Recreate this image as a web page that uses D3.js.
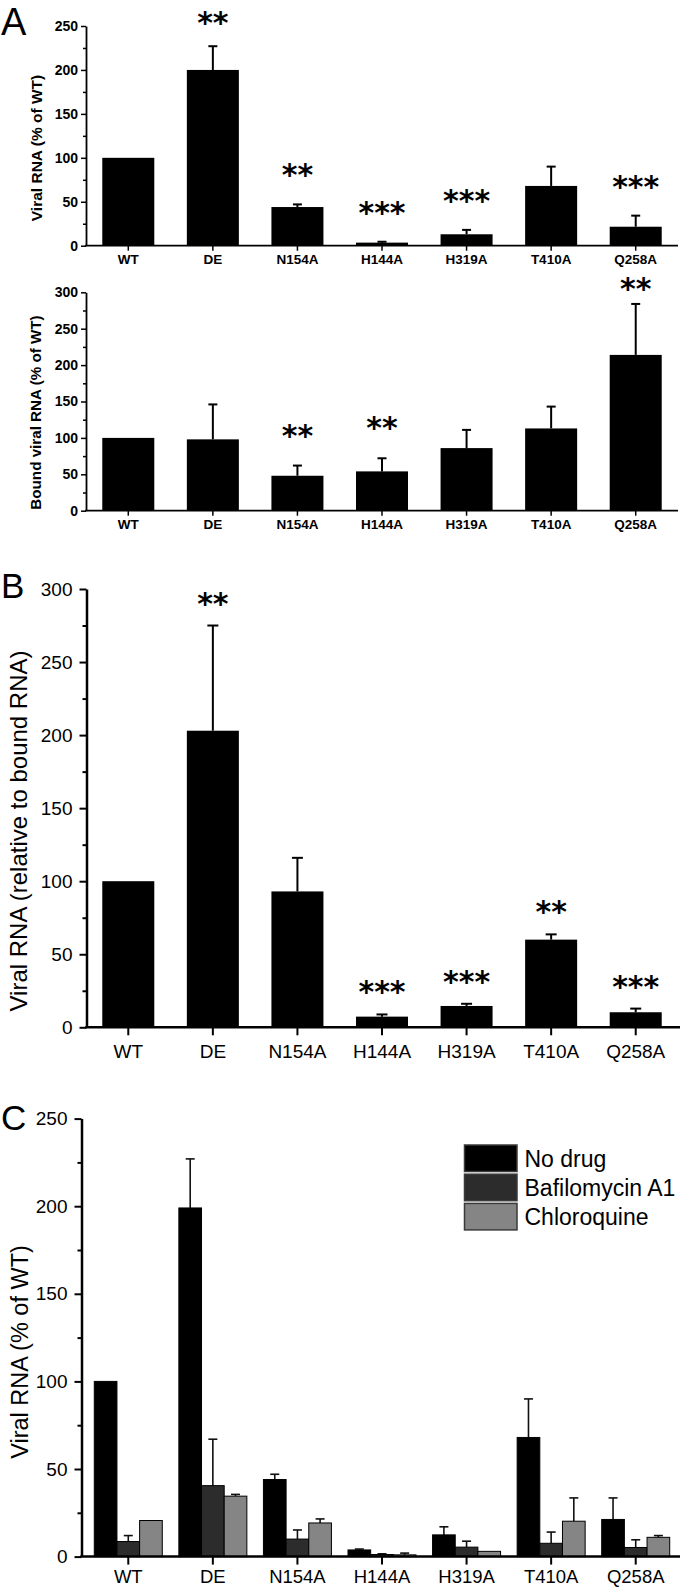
<!DOCTYPE html>
<html>
<head>
<meta charset="utf-8">
<script src="https://cdnjs.cloudflare.com/ajax/libs/d3/7.8.5/d3.min.js"></script>
<style>
  html, body { margin: 0; padding: 0; background: #fff; }
  svg { display: block; }
</style>
</head>
<body>
<script>
// ---------------- data ----------------
const categories = ["WT", "DE", "N154A", "H144A", "H319A", "T410A", "Q258A"];

// Panel A (top): Viral RNA (% of WT)
const a1Values = [100, 200, 44, 3.5, 13, 68, 21.6];
const a1Errors = [0, 27, 3, 1, 5, 22, 12.6];
const a1Sig = ["", "**", "**", "***", "***", "", "***"];
const a1Ticks = [0, 50, 100, 150, 200, 250];

// Panel A (bottom): Bound viral RNA (% of WT)
const a2Values = [100, 98, 48, 54, 86, 113, 214];
const a2Errors = [0, 48, 14, 18, 25, 30, 70];
const a2Sig = ["", "", "**", "**", "", "", "**"];
const a2Ticks = [0, 50, 100, 150, 200, 250, 300];

// Panel B: Viral RNA (relative to bound RNA)
const bValues = [100, 203, 93, 7.3, 14.6, 60, 10.3];
const bErrors = [0, 72, 23, 1.5, 1.5, 3.6, 2.5];
const bSig = ["", "**", "", "***", "***", "**", "***"];
const bTicks = [0, 50, 100, 150, 200, 250, 300];

// Panel C: Viral RNA (% of WT) with drugs
const seriesNames = ["No drug", "Bafilomycin A1", "Chloroquine"];
const cNoDrug = [100, 199, 44, 3.8, 12.4, 68, 21.2];
const cNoDrugErr = [0, 28, 3, 0.5, 4.6, 22, 12.3];
const cBafilo = [8.6, 40.5, 10, 1.2, 5.4, 7.6, 5.2];
const cBafiloErr = [3.4, 26.5, 5.2, 0.4, 3.4, 6.4, 4.4];
const cChloro = [20.6, 34.5, 19.2, 1, 3, 20.2, 11];
const cChloroErr = [0, 1, 2.3, 1, 0, 13.3, 1];
const cTicks = [0, 50, 100, 150, 200, 250];

// ---------------- drawing ----------------
const W = 680, H = 1588;
const FONT = "'Liberation Sans', Arial, Helvetica, sans-serif";
const svg = d3.select("body").append("svg").attr("width", W).attr("height", H);

function minorOf(ticks) {
  const out = [];
  for (let i = 0; i < ticks.length - 1; i++) out.push((ticks[i] + ticks[i + 1]) / 2);
  return out;
}

function styleAxis(g, o) {
  g.selectAll("path.domain").attr("stroke", "#000").attr("stroke-width", o.axisW);
  g.selectAll(".tick line").attr("stroke", "#000").attr("stroke-width", o.tickW);
  g.selectAll(".tick text")
    .attr("fill", "#000")
    .style("font-family", FONT)
    .style("font-size", o.fs + "px")
    .style("font-weight", o.fw);
}

function drawAxes(o) {
  const y0 = o.y(0);
  const gy = svg.append("g").attr("transform", `translate(${o.axisX},0)`)
    .call(d3.axisLeft(o.y).tickValues(o.ticks).tickSize(o.majorLen).tickSizeOuter(0).tickPadding(o.yPad));
  styleAxis(gy, { axisW: o.axisW, tickW: o.tickW, fs: o.fs, fw: o.fw });
  const gm = svg.append("g").attr("transform", `translate(${o.axisX},0)`)
    .call(d3.axisLeft(o.y).tickValues(minorOf(o.ticks)).tickSize(o.minorLen).tickFormat(""));
  gm.select("path.domain").remove();
  gm.selectAll(".tick line").attr("stroke", "#000").attr("stroke-width", o.tickW);

  const gx = svg.append("g").attr("transform", `translate(0,${y0})`)
    .call(d3.axisBottom(o.x).tickSize(o.xTickLen).tickSizeOuter(0).tickPadding(o.xPad));
  styleAxis(gx, { axisW: o.axisW, tickW: o.tickW, fs: o.xfs, fw: o.fw });
  gx.select("path.domain").attr("d", `M${o.axisX - o.axisW / 2},0H${o.right}`);
}

function yTitle(text, cx, cy, fs, fw) {
  svg.append("text")
    .attr("transform", `translate(${cx},${cy}) rotate(-90)`)
    .attr("text-anchor", "middle")
    .attr("dy", "0.35em")
    .style("font-family", FONT)
    .style("font-size", fs + "px")
    .style("font-weight", fw)
    .attr("fill", "#000")
    .text(text);
}

function panelLetter(t, x, y, fs) {
  svg.append("text").attr("x", x).attr("y", y)
    .style("font-family", FONT).style("font-size", fs + "px")
    .attr("fill", "#000").text(t);
}

const STAR_FS = 30;
function stars(list, xc, yTopPx, offset, clampY) {
  list.forEach((s, i) => {
    if (!s) return;
    let cy = Math.max(yTopPx[i] - offset, clampY);
    svg.append("text")
      .attr("x", xc(categories[i])).attr("y", cy + STAR_FS * 0.5)
      .attr("text-anchor", "middle")
      .style("font-family", "'DejaVu Sans', sans-serif")
      .style("font-weight", "bold")
      .style("font-size", STAR_FS + "px")
      .attr("fill", "#000")
      .text(s);
  });
}

function simpleBarPanel(o) {
  const x = d3.scaleBand().domain(categories).range([86, 678]).paddingInner(0.385).paddingOuter(0.1925);
  const y = d3.scaleLinear().domain(o.domain).range(o.range);
  const xc = c => x(c) + x.bandwidth() / 2;

  const eb = svg.append("g");
  o.values.forEach((v, i) => {
    if (o.errors[i] <= 0) return;
    const cx = xc(categories[i]);
    eb.append("line").attr("x1", cx).attr("x2", cx).attr("y1", y(v)).attr("y2", y(v + o.errors[i]))
      .attr("stroke", "#000").attr("stroke-width", o.ebW);
    eb.append("line").attr("x1", cx - o.cap / 2).attr("x2", cx + o.cap / 2)
      .attr("y1", y(v + o.errors[i])).attr("y2", y(v + o.errors[i]))
      .attr("stroke", "#000").attr("stroke-width", o.ebW);
  });
  svg.append("g").selectAll("rect").data(o.values).join("rect")
    .attr("x", (d, i) => x(categories[i]))
    .attr("width", x.bandwidth())
    .attr("y", d => y(d))
    .attr("height", d => y(0) - y(d))
    .attr("fill", "#000");

  drawAxes(Object.assign({ x, y }, o.axis));
  const tops = o.values.map((v, i) => y(v + o.errors[i]));
  stars(o.sig, xc, tops, o.starOffset, y(o.domain[1]) - 8);
}

// ---- Panel A top ----
const axisA = { axisX: 86, right: 678, majorLen: 5, minorLen: 3, fs: 14, xfs: 13.5, fw: "bold",
  xTickLen: 5, xPad: 4, yPad: 3, axisW: 1.8, tickW: 1.5 };
simpleBarPanel({ values: a1Values, errors: a1Errors, sig: a1Sig, domain: [0, 250], range: [245.7, 26],
  ebW: 2, cap: 9, starOffset: 34, axis: Object.assign({ ticks: a1Ticks }, axisA) });
yTitle("Viral RNA (% of WT)", 37, 148, 15.5, "bold");

// ---- Panel A bottom ----
simpleBarPanel({ values: a2Values, errors: a2Errors, sig: a2Sig, domain: [0, 300], range: [510.7, 292.3],
  ebW: 2, cap: 9, starOffset: 35, axis: Object.assign({ ticks: a2Ticks }, axisA) });
yTitle("Bound viral RNA (% of WT)", 36, 412.5, 15.2, "bold");
panelLetter("A", 1, 34.5, 38);

// ---- Panel B ----
const axisB = { axisX: 86.5, right: 680, majorLen: 7, minorLen: 4, fs: 19, xfs: 19, fw: "normal",
  xTickLen: 8, xPad: 9, yPad: 7, axisW: 2.5, tickW: 2 };
simpleBarPanel({ values: bValues, errors: bErrors, sig: bSig, domain: [0, 300], range: [1027.3, 589],
  ebW: 2, cap: 11, starOffset: 27, axis: Object.assign({ ticks: bTicks }, axisB) });
yTitle("Viral RNA (relative to bound RNA)", 19, 831, 24, "normal");
panelLetter("B", 1, 598, 35);

// ---- Panel C ----
(function () {
  const series = [cNoDrug, cBafilo, cChloro];
  const seriesErr = [cNoDrugErr, cBafiloErr, cChloroErr];
  const colors = ["#000000", "#2c2c2c", "#858585"];
  const x = d3.scaleBand().domain(categories).range([86, 678]).paddingInner(0.196).paddingOuter(0.098);
  const xs = d3.scaleBand().domain(seriesNames).range([0, x.bandwidth()]);
  const y = d3.scaleLinear().domain([0, 250]).range([1556.6, 1118.6]);

  const eb = svg.append("g");
  series.forEach((vals, s) => {
    vals.forEach((v, i) => {
      const e = seriesErr[s][i];
      if (e <= 0) return;
      const cx = x(categories[i]) + xs(seriesNames[s]) + xs.bandwidth() / 2;
      eb.append("line").attr("x1", cx).attr("x2", cx).attr("y1", y(v)).attr("y2", y(v + e))
        .attr("stroke", "#111").attr("stroke-width", 1.6);
      eb.append("line").attr("x1", cx - 4.5).attr("x2", cx + 4.5).attr("y1", y(v + e)).attr("y2", y(v + e))
        .attr("stroke", "#111").attr("stroke-width", 1.6);
    });
  });
  series.forEach((vals, s) => {
    svg.append("g").selectAll("rect").data(vals).join("rect")
      .attr("x", (d, i) => x(categories[i]) + xs(seriesNames[s]))
      .attr("width", xs.bandwidth())
      .attr("y", d => y(d))
      .attr("height", d => y(0) - y(d))
      .attr("fill", colors[s])
      .attr("stroke", "#000").attr("stroke-width", 1);
  });

  drawAxes(Object.assign({ x, y, ticks: cTicks }, { axisX: 81.5, right: 680, majorLen: 7, minorLen: 4, fs: 19, xfs: 18.5,
    fw: "normal", xTickLen: 8, xPad: 5, yPad: 7, axisW: 2.5, tickW: 2 }));

  const lg = svg.append("g").attr("transform", "translate(464.5,1145)");
  seriesNames.forEach((n, i) => {
    lg.append("rect").attr("x", 0).attr("y", i * 29.2).attr("width", 52.5).attr("height", 26.5)
      .attr("fill", colors[i]).attr("stroke", "#3a3a3a").attr("stroke-width", 1.5);
    lg.append("text").attr("x", 60).attr("y", i * 29.2 + 13.25).attr("dy", "0.36em")
      .style("font-family", FONT).style("font-size", "23px").attr("fill", "#000").text(n);
  });

  yTitle("Viral RNA (% of WT)", 19.5, 1352, 23.5, "normal");
  panelLetter("C", 1, 1130, 35);
})();
</script>
</body>
</html>
